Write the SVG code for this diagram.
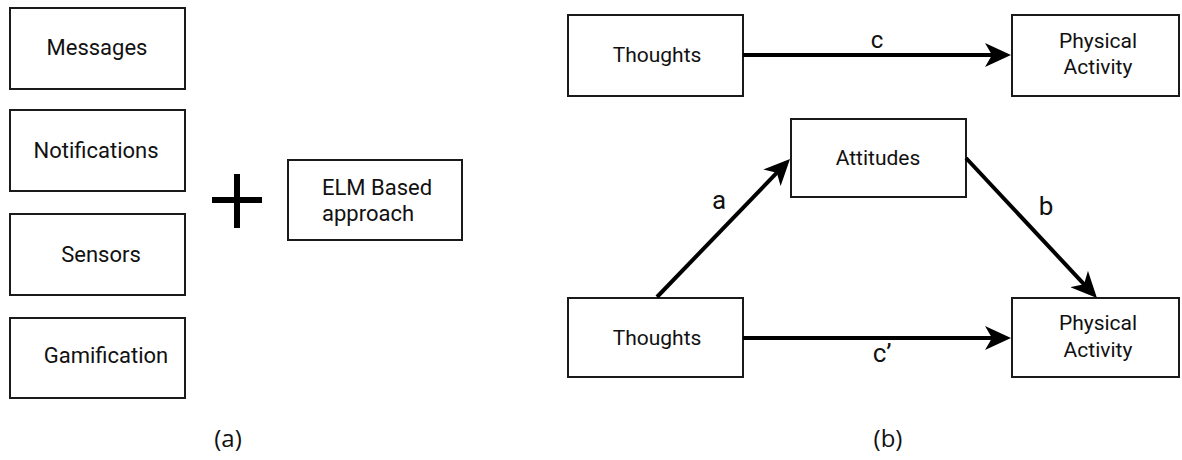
<svg xmlns="http://www.w3.org/2000/svg" width="1182" height="460" viewBox="0 0 1182 460">
<style>
.box{fill:#fff;stroke:#1a1a1a;stroke-width:2}
.t{font-family:Roboto,"Liberation Sans",sans-serif;font-size:22px;fill:#111;text-anchor:middle}
.tr{font-family:Roboto,"Liberation Sans",sans-serif;font-size:21px;fill:#111;text-anchor:middle}
.lb{font-family:Roboto,"Liberation Sans",sans-serif;font-size:26px;fill:#111;text-anchor:middle}
.lc{font-family:Roboto,"Liberation Sans",sans-serif;font-size:24px;fill:#111;text-anchor:middle}
.tl{font-family:Roboto,"Liberation Sans",sans-serif;font-size:22px;fill:#111}
.cap{font-family:"Open Sans","Noto Sans",sans-serif;font-size:24px;fill:#111;text-anchor:middle}
.edge{stroke:#000;stroke-width:4;fill:none}
.plus{stroke:#000;stroke-width:6;fill:none}
</style>
<defs>
<marker id="arr" markerUnits="userSpaceOnUse" markerWidth="26" markerHeight="24" viewBox="0 0 26 24" refX="12" refY="12" orient="auto">
<path d="M0,0 L26,12 L0,24 L7,12 z" fill="#000"/>
</marker>
</defs>
<rect width="1182" height="460" fill="#fff"/>

<g id="messages"><rect class="box" x="10" y="8" width="175" height="81"/><text class="t" x="97" y="55">Messages</text></g>
<g id="notifications"><rect class="box" x="10" y="110" width="175" height="81"/><text class="t" x="96" y="158">Notifications</text></g>
<g id="sensors"><rect class="box" x="10" y="214" width="175" height="81"/><text class="t" x="101" y="262">Sensors</text></g>
<g id="gamification"><rect class="box" x="10" y="318" width="175" height="80"/><text class="t" x="106" y="363">Gamification</text></g>
<g id="plus"><line class="plus" x1="212" y1="200" x2="262" y2="200"/><line class="plus" x1="237" y1="174" x2="237" y2="228"/></g>
<g id="elm"><rect class="box" x="288" y="160" width="174" height="80"/><text class="tl" x="322" y="195">ELM Based</text><text class="tl" x="322" y="221">approach</text></g>
<text class="cap" x="228" y="447">(a)</text>

<g id="thoughts1"><rect class="box" x="568" y="15" width="175" height="81"/><text class="tr" x="657" y="62">Thoughts</text></g>
<g id="pa1"><rect class="box" x="1012" y="15" width="167" height="81"/><text class="tr" x="1098" y="48">Physical</text><text class="tr" x="1098" y="74">Activity</text></g>
<g id="attitudes"><rect class="box" x="791" y="119" width="175" height="78"/><text class="tr" x="878" y="165">Attitudes</text></g>
<g id="thoughts2"><rect class="box" x="568" y="298" width="175" height="79"/><text class="tr" x="657" y="345">Thoughts</text></g>
<g id="pa2"><rect class="box" x="1012" y="298" width="167" height="79"/><text class="tr" x="1098" y="330">Physical</text><text class="tr" x="1098" y="357">Activity</text></g>

<g id="connectors">
<line class="edge" x1="743" y1="55" x2="997" y2="55" marker-end="url(#arr)"/>
<line class="edge" x1="657" y1="297" x2="780.3" y2="169.1" marker-end="url(#arr)"/>
<line class="edge" x1="966" y1="158" x2="1087.4" y2="287.8" marker-end="url(#arr)"/>
<line class="edge" x1="743" y1="338" x2="997" y2="338" marker-end="url(#arr)"/>
<text class="lc" x="877" y="48">c</text>
<text class="lb" x="719" y="209">a</text>
<text class="lb" x="1046" y="215">b</text>
<text class="lb" x="882" y="362">c’</text>
</g>
<text class="cap" x="888" y="447">(b)</text>
</svg>
